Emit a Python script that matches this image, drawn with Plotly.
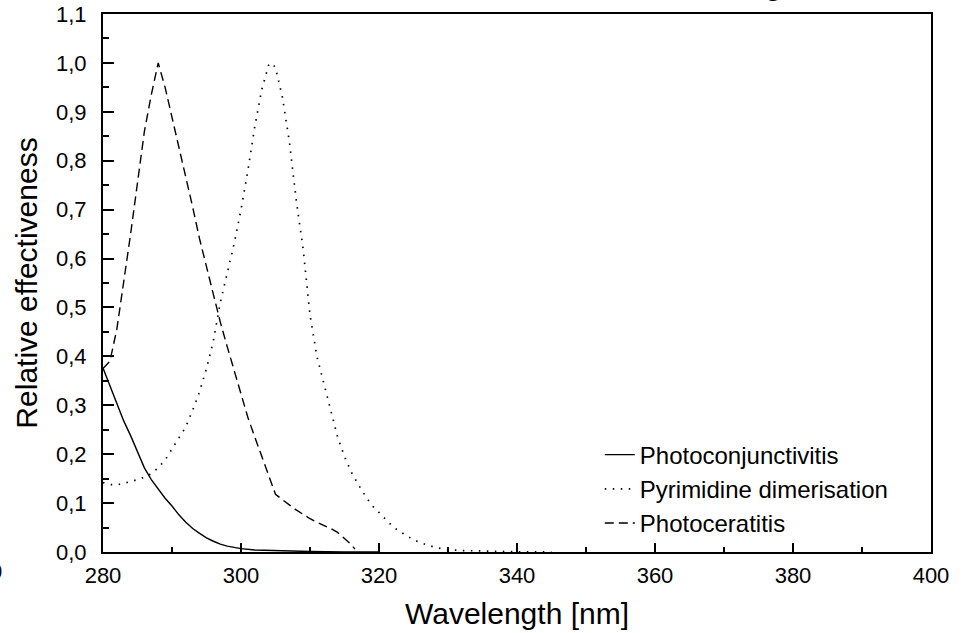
import plotly.graph_objects as go

# ---- data ----
wl_conj = [280, 281, 282, 283, 284, 285, 286, 287, 288, 289, 290, 291, 292, 293, 294,
           295, 296, 297, 298, 299, 300, 302, 304, 306, 308, 310, 315, 320]
val_conj = [0.376, 0.34, 0.305, 0.268, 0.238, 0.205, 0.172, 0.148, 0.128, 0.110, 0.094,
            0.076, 0.061, 0.048, 0.038, 0.029, 0.022, 0.016, 0.012, 0.009, 0.007, 0.004,
            0.003, 0.002, 0.0015, 0.001, 0.0003, 0.0]

wl_pyr = [280, 281, 282, 283, 284, 285, 286, 287, 288, 289, 290, 291, 292, 293, 294, 295,
          296, 297, 298, 299, 300, 301, 302, 303, 304, 304.5, 305, 306, 307, 308, 309, 310,
          311, 312, 313, 314, 315, 316, 317, 318, 319, 320, 321, 322, 323, 324, 325, 326,
          327, 328, 329, 330, 332, 335, 340, 345]
val_pyr = [0.142, 0.138, 0.137, 0.140, 0.144, 0.148, 0.153, 0.160, 0.172, 0.188, 0.210,
           0.232, 0.256, 0.290, 0.328, 0.375, 0.432, 0.510, 0.570, 0.630, 0.700, 0.780,
           0.870, 0.945, 0.995, 1.0, 0.99, 0.93, 0.84, 0.72, 0.62, 0.485, 0.40, 0.345,
           0.285, 0.235, 0.195, 0.163, 0.138, 0.115, 0.095, 0.080, 0.065, 0.052, 0.042,
           0.033, 0.025, 0.019, 0.014, 0.010, 0.007, 0.005, 0.003, 0.0015, 0.0005, 0.0]

wl_cer = [280, 281, 282, 283, 284, 285, 286, 287, 288, 289, 290, 291, 292, 293, 294, 295,
          296, 297, 298, 299, 300, 301, 302, 303, 304, 305, 306, 307, 308, 309, 310, 311,
          312, 313, 314, 315, 316, 316.5]
val_cer = [0.375, 0.39, 0.455, 0.55, 0.65, 0.755, 0.86, 0.935, 1.0, 0.95, 0.89, 0.825,
           0.765, 0.705, 0.64, 0.583, 0.53, 0.47, 0.42, 0.37, 0.32, 0.275, 0.235, 0.195,
           0.155, 0.118, 0.107, 0.096, 0.086, 0.077, 0.068, 0.061, 0.055, 0.048, 0.040,
           0.028, 0.015, 0.006]

names = ["Photoconjunctivitis", "Pyrimidine dimerisation", "Photoceratitis"]
x_ticks = [280, 300, 320, 340, 360, 380, 400]
y_ticks = [0.0, 0.1, 0.2, 0.3, 0.4, 0.5, 0.6, 0.7, 0.8, 0.9, 1.0, 1.1]

FONT = "Liberation Sans, Arial, sans-serif"

fig = go.Figure()
fig.add_trace(go.Scatter(x=wl_conj, y=val_conj, mode="lines", name=names[0],
                         legendgroup="a",
                         line=dict(color="black", width=1.4, dash="solid")))
fig.add_trace(go.Scatter(x=wl_pyr, y=val_pyr, mode="lines", name=names[1],
                         legendgroup="b",
                         line=dict(color="black", width=1.7, dash="1.5px,6.5px")))
fig.add_trace(go.Scatter(x=wl_cer, y=val_cer, mode="lines", name=names[2],
                         legendgroup="c",
                         line=dict(color="black", width=1.4, dash="9px,5px")))

fig.update_layout(
    width=969, height=633,
    margin=dict(l=103, r=38, t=14, b=81, autoexpand=False),
    paper_bgcolor="white", plot_bgcolor="white",
    separators=",.",
    font=dict(family=FONT, color="black", size=22),
    showlegend=True,
    legend=dict(x=0.6, y=0.222, xanchor="left", yanchor="top",
                bgcolor="rgba(0,0,0,0)", font=dict(size=24, family=FONT),
                tracegroupgap=0, itemwidth=30),
)

fig.update_xaxes(
    range=[280, 400], tickvals=x_ticks, ticktext=[str(v) for v in x_ticks],
    ticks="inside", ticklen=9, tickwidth=1.5, tickcolor="black",
    minor=dict(ticks="inside", ticklen=5, tickwidth=1.5, tickcolor="black", dtick=10, tick0=280),
    showline=True, linecolor="black", linewidth=2, mirror=True,
    showgrid=False, zeroline=False, automargin=False,
    tickfont=dict(size=22, family=FONT),
    ticklabelstandoff=3,
    title=dict(text="Wavelength [nm]", font=dict(size=30, family=FONT), standoff=16),
)
fig.update_yaxes(
    range=[0, 1.1], tickvals=y_ticks, tickformat=".1f",
    ticks="inside", ticklen=11, tickwidth=1.5, tickcolor="black",
    minor=dict(ticks="inside", ticklen=6, tickwidth=1.5, tickcolor="black", dtick=0.05, tick0=0),
    showline=True, linecolor="black", linewidth=2, mirror=True,
    showgrid=False, zeroline=False, automargin=False,
    tickfont=dict(size=22, family=FONT),
    ticklabelstandoff=10,
    title=dict(text="Relative effectiveness", font=dict(size=30, family=FONT), standoff=10),
)

# clipped remnants visible at the edges of the reference image
fig.add_annotation(text="<b>g</b>", xref="paper", yref="paper", x=0.81, y=1,
                   xanchor="center", yanchor="bottom", yshift=11, showarrow=False,
                   font=dict(size=28, family=FONT, color="black"))
fig.add_annotation(text="0", xref="paper", yref="paper", x=-0.1196, y=0,
                   xanchor="right", yanchor="top", yshift=-5, showarrow=False,
                   font=dict(size=22, family=FONT, color="black"))

fig.write_html("out.html")
